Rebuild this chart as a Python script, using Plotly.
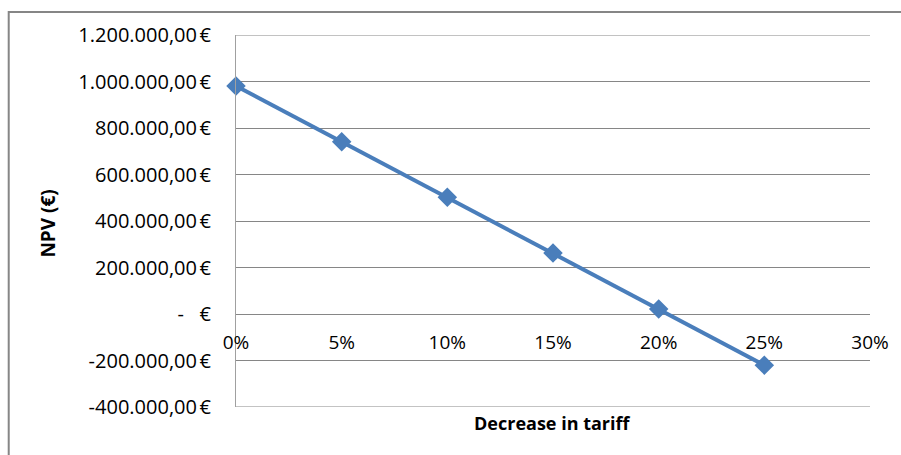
import plotly.graph_objects as go

# Decrease in feed-in tariff vs. project net present value
tariff_cut = [0.00, 0.05, 0.10, 0.15, 0.20, 0.25]
npv_eur = [981000, 741000, 502000, 262000, 22000, -220000]

y_ticks = [-400000, -200000, 0, 200000, 400000, 600000, 800000, 1000000, 1200000]
y_tick_text = ["-400.000,00\u202f€", "-200.000,00\u202f€", "-\u00a0\u00a0\u00a0€",
               "200.000,00\u202f€", "400.000,00\u202f€", "600.000,00\u202f€",
               "800.000,00\u202f€", "1.000.000,00\u202f€", "1.200.000,00\u202f€"]
x_ticks = [0.00, 0.05, 0.10, 0.15, 0.20, 0.25, 0.30]
x_tick_text = ["0%", "5%", "10%", "15%", "20%", "25%", "30%"]

GRID = "#868686"
BLUE = "#4A7EBB"
FONT = "Open Sans"

W, H = 901, 455
L, R, T, B = 236, 872, 35, 407


def px_x(p):
    return (p - L) / (R - L)


def px_y(p):
    return (B - p) / (B - T)


fig = go.Figure()
fig.add_trace(go.Scatter(
    x=tariff_cut, y=npv_eur, mode="lines+markers",
    line=dict(color=BLUE, width=4),
    marker=dict(symbol="diamond", size=15, color=BLUE, line=dict(width=0)),
    cliponaxis=False, showlegend=False,
))

# gridlines at the two ends of the value axis
edge_grid = [
    dict(type="line", xref="paper", yref="y", x0=0, x1=1, y0=v, y1=v,
         line=dict(color=GRID, width=1), layer="below")
    for v in (y_ticks[0], y_ticks[-1])
]

fig.update_layout(
    width=W, height=H,
    margin=dict(l=L, r=W - R, t=T, b=H - B, pad=0),
    paper_bgcolor="white", plot_bgcolor="white",
    font=dict(family=FONT, size=14, color="#000000"),
    xaxis=dict(
        range=[0, 0.30], tickvals=x_ticks, ticktext=x_tick_text,
        showgrid=False, zeroline=False,
        showline=False,
        anchor="free", position=px_y(314),
        ticks="outside", ticklen=11, tickcolor="rgba(0,0,0,0)",
        tickfont=dict(size=19),
    ),
    yaxis=dict(
        range=[y_ticks[0], y_ticks[-1]], tickvals=y_ticks, ticktext=y_tick_text,
        showgrid=True, gridcolor=GRID, gridwidth=1,
        zeroline=False,
        showline=True, linecolor="#A0A0A0", linewidth=1,
        ticks="outside", ticklen=20, tickcolor="rgba(0,0,0,0)",
        tickfont=dict(size=20),
    ),
    shapes=[
        # outer chart frame
        dict(type="rect", xref="paper", yref="paper",
             x0=px_x(8), y0=px_y(470), x1=px_x(915), y1=px_y(12),
             line=dict(color=GRID, width=2), layer="below"),
    ] + edge_grid,
    annotations=[
        dict(text="<b>Decrease in tariff</b>", xref="paper", yref="paper",
             x=px_x(553), y=px_y(423), showarrow=False,
             xanchor="center", yanchor="middle", font=dict(size=18)),
        dict(text="<b>NPV (€)</b>", xref="paper", yref="paper",
             x=px_x(47), y=px_y(224), showarrow=False, textangle=-90,
             xanchor="center", yanchor="middle", font=dict(size=19)),
    ],
)

fig.write_html("out.html")
